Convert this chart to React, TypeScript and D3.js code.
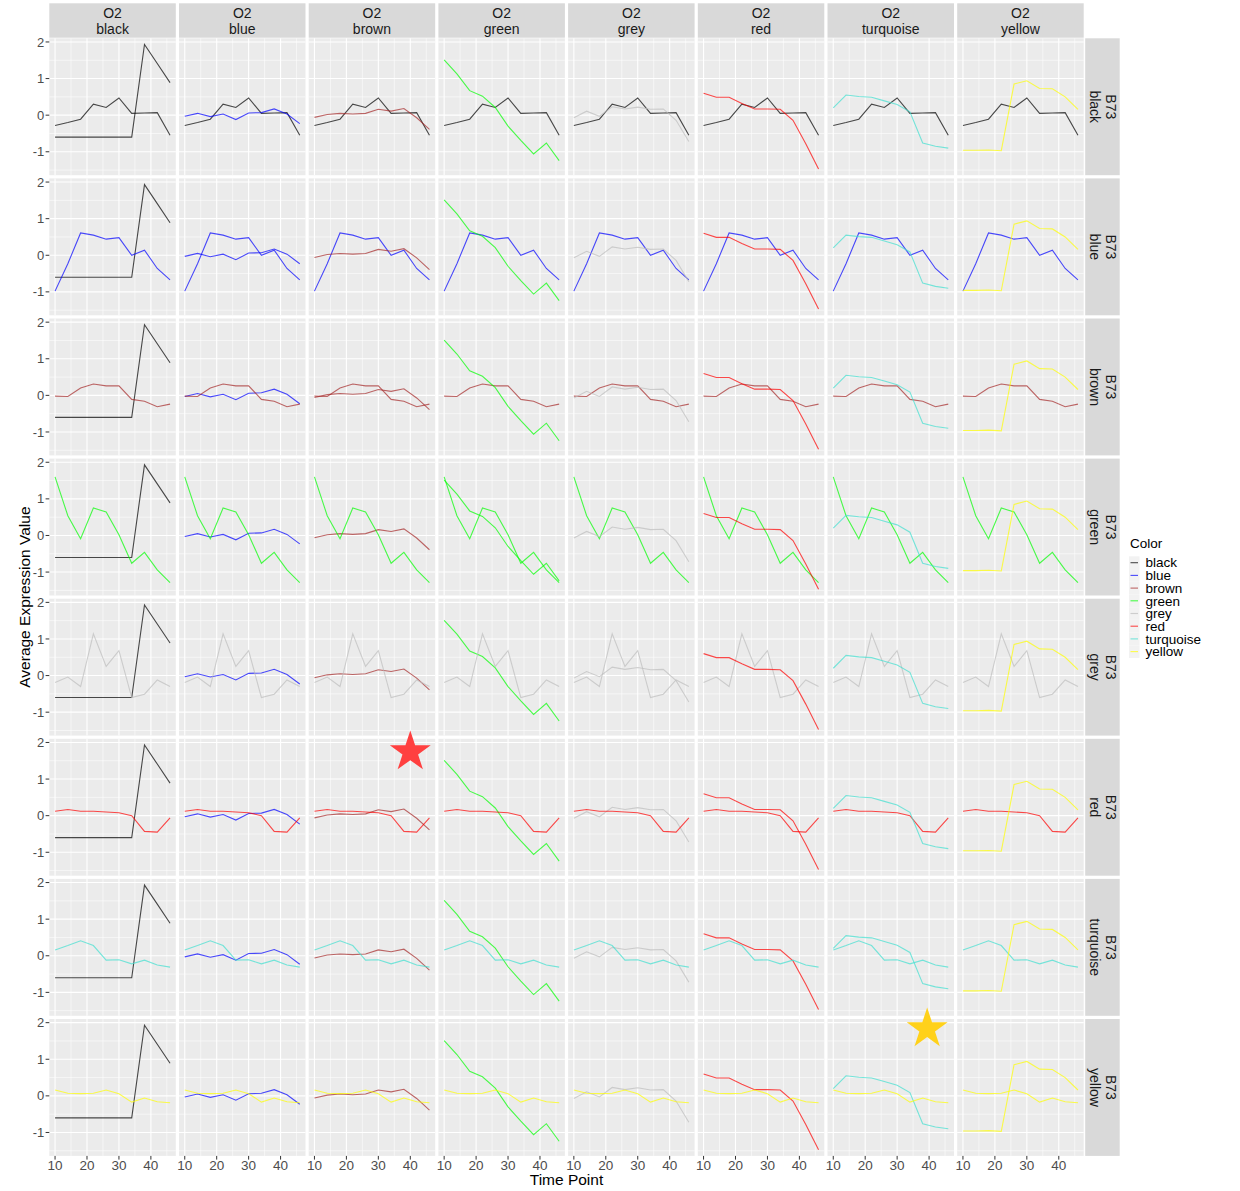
import React from "react";
import * as d3 from "d3";

// ---- data ----
const modules = ["black", "blue", "brown", "green", "grey", "red", "turquoise", "yellow"];
const moduleColors = ["#000000", "#0000FF", "#A52A2A", "#00FF00", "#BEBEBE", "#FF0000", "#40E0D0", "#FFFF00"];
const timePoints = [10, 14, 18, 22, 26, 30, 34, 38, 42, 46];

const o2Black = [-0.6, -0.6, -0.6, -0.6, -0.6, -0.6, -0.6, 1.93, 1.41, 0.89];
const o2Blue = [-0.03, 0.05, -0.04, 0.03, -0.12, 0.06, 0.07, 0.17, 0.03, -0.23];
const o2Brown = [-0.06, 0.02, 0.05, 0.03, 0.05, 0.16, 0.11, 0.18, -0.07, -0.39];
const o2Green = [1.51, 1.13, 0.67, 0.52, 0.21, -0.3, -0.69, -1.06, -0.76, -1.24];
const o2Grey = [-0.07, 0.11, -0.03, 0.23, 0.17, 0.22, 0.16, 0.17, -0.14, -0.72];
const o2Red = [0.6, 0.49, 0.49, 0.32, 0.17, 0.17, 0.16, -0.14, -0.78, -1.47];
const o2Turquoise = [0.2, 0.55, 0.51, 0.49, 0.39, 0.29, 0.09, -0.76, -0.85, -0.9];
const o2Yellow = [-0.96, -0.96, -0.95, -0.97, 0.85, 0.94, 0.73, 0.72, 0.5, 0.16];

const b73Black = [-0.28, -0.2, -0.11, 0.3, 0.21, 0.47, 0.05, 0.06, 0.07, -0.55];
const b73Blue = [-0.98, -0.23, 0.61, 0.55, 0.44, 0.48, 0.0, 0.14, -0.36, -0.67];
const b73Brown = [-0.02, -0.03, 0.2, 0.31, 0.26, 0.26, -0.11, -0.16, -0.31, -0.24];
const b73Green = [1.6, 0.54, -0.09, 0.75, 0.64, 0.02, -0.76, -0.46, -0.94, -1.29];
const b73Grey = [-0.19, -0.04, -0.3, 1.14, 0.25, 0.68, -0.6, -0.51, -0.12, -0.3];
const b73Red = [0.12, 0.17, 0.12, 0.12, 0.1, 0.08, 0.0, -0.43, -0.45, -0.06];
const b73Turquoise = [0.16, 0.28, 0.41, 0.28, -0.12, -0.11, -0.22, -0.12, -0.25, -0.31];
const b73Yellow = [0.16, 0.07, 0.06, 0.07, 0.16, 0.06, -0.17, -0.06, -0.16, -0.19];

const o2Series = [o2Black, o2Blue, o2Brown, o2Green, o2Grey, o2Red, o2Turquoise, o2Yellow];
const b73Series = [b73Black, b73Blue, b73Brown, b73Green, b73Grey, b73Red, b73Turquoise, b73Yellow];

const xTicks = [10, 20, 30, 40];
const xMinor = [15, 25, 35, 45];
const yTicks = [-1, 0, 1, 2];
const yMinor = [-1.5, -0.5, 0.5, 1.5];

// annotation stars: panel (row module, col module) and data position
const starRows = ["red", "yellow"];
const starCols = ["brown", "turquoise"];
const starT = [40, 39.4];
const starV = [1.74, 1.83];
const starColors = ["#FF4040", "#FFD11A"];

// ---- layout ----
const W = 1240;
const H = 1191;
const panelLeft = 49.3;
const panelTop = 38.3;
const panelW = 126.5;
const panelH = 136.9;
const gap = 3.2;
const FONT = "'Liberation Sans', Arial, Helvetica, sans-serif";

export default function App() {
  const allVals = [...o2Series.flat(), ...b73Series.flat()];
  const [vmin, vmax] = d3.extent(allVals) as [number, number];
  const vr = vmax - vmin;
  const [tmin, tmax] = d3.extent(timePoints) as [number, number];
  const tr = tmax - tmin;

  const x = d3.scaleLinear().domain([tmin - 0.05 * tr, tmax + 0.05 * tr]).range([0, panelW]);
  const y = d3.scaleLinear().domain([vmin - 0.05 * vr, vmax + 0.05 * vr]).range([panelH, 0]);

  const line = d3
    .line<number>()
    .x((_, i) => x(timePoints[i]))
    .y((d) => y(d));

  const colX = (c: number) => panelLeft + c * (panelW + gap);
  const rowY = (r: number) => panelTop + r * (panelH + gap);
  const gridBottom = rowY(7) + panelH;
  const gridRight = colX(7) + panelW;

  const starPath = (r: number) => d3.symbol(d3.symbolStar, (r * r) / 0.8908130915)();

  return (
    <svg
      width={W}
      height={H}
      style={{ position: "absolute", left: 0, top: 0, background: "#FFFFFF" }}
      fontFamily={FONT}
    >
      <rect width={W} height={H} fill="#FFFFFF" />
      {modules.map((rowMod, r) =>
        modules.map((colMod, c) => {
          const order = [
            { vals: o2Series[c], idx: c },
            { vals: b73Series[r], idx: r },
          ].sort((a, b) => a.idx - b.idx);
          return (
            <g key={`${r}-${c}`} transform={`translate(${colX(c)},${rowY(r)})`}>
              <rect width={panelW} height={panelH} fill="#EBEBEB" />
              {xMinor.map((t) => (
                <line key={`xm${t}`} x1={x(t)} x2={x(t)} y1={0} y2={panelH} stroke="#FFFFFF" strokeWidth={0.55} />
              ))}
              {yMinor.map((v) => (
                <line key={`ym${v}`} x1={0} x2={panelW} y1={y(v)} y2={y(v)} stroke="#FFFFFF" strokeWidth={0.55} />
              ))}
              {xTicks.map((t) => (
                <line key={`xM${t}`} x1={x(t)} x2={x(t)} y1={0} y2={panelH} stroke="#FFFFFF" strokeWidth={1.1} />
              ))}
              {yTicks.map((v) => (
                <line key={`yM${v}`} x1={0} x2={panelW} y1={y(v)} y2={y(v)} stroke="#FFFFFF" strokeWidth={1.1} />
              ))}
              {order.map((s, k) => (
                <path
                  key={k}
                  d={line(s.vals) || ""}
                  fill="none"
                  stroke={moduleColors[s.idx]}
                  strokeOpacity={0.7}
                  strokeWidth={1.1}
                />
              ))}
            </g>
          );
        })
      )}

      {/* top strips */}
      {modules.map((m, c) => (
        <g key={`ts${c}`} transform={`translate(${colX(c)},3.3)`}>
          <rect width={panelW} height={34.4} fill="#D9D9D9" />
          <text x={panelW / 2} y={14.6} textAnchor="middle" fontSize={14} fill="#1A1A1A">
            O2
          </text>
          <text x={panelW / 2} y={30.6} textAnchor="middle" fontSize={14} fill="#1A1A1A">
            {m}
          </text>
        </g>
      ))}

      {/* right strips */}
      {modules.map((m, r) => (
        <g key={`rs${r}`}>
          <rect x={gridRight + 1.5} y={rowY(r)} width={34.5} height={panelH} fill="#D9D9D9" />
          <text
            transform={`translate(${gridRight + 22.5},${rowY(r) + panelH / 2}) rotate(90)`}
            textAnchor="middle"
            fontSize={14}
            fill="#1A1A1A"
          >
            B73
          </text>
          <text
            transform={`translate(${gridRight + 6},${rowY(r) + panelH / 2}) rotate(90)`}
            textAnchor="middle"
            fontSize={14}
            fill="#1A1A1A"
          >
            {m}
          </text>
        </g>
      ))}

      {/* y axes */}
      {modules.map((_, r) => (
        <g key={`ya${r}`} transform={`translate(${panelLeft},${rowY(r)})`}>
          {yTicks.map((v) => (
            <g key={v}>
              <line x1={-3.7} x2={0} y1={y(v)} y2={y(v)} stroke="#333333" strokeWidth={1} />
              <text x={-5} y={y(v)} dy="0.35em" textAnchor="end" fontSize={13} fill="#4D4D4D">
                {v}
              </text>
            </g>
          ))}
        </g>
      ))}

      {/* x axes */}
      {modules.map((_, c) => (
        <g key={`xa${c}`} transform={`translate(${colX(c)},${gridBottom})`}>
          {xTicks.map((t) => (
            <g key={t}>
              <line x1={x(t)} x2={x(t)} y1={0} y2={3.7} stroke="#333333" strokeWidth={1} />
              <text x={x(t)} y={13.8} textAnchor="middle" fontSize={13.5} fill="#4D4D4D">
                {t}
              </text>
            </g>
          ))}
        </g>
      ))}

      {/* axis titles */}
      <text x={(panelLeft + gridRight) / 2} y={1185} textAnchor="middle" fontSize={15.5} fill="#000000">
        Time Point
      </text>
      <text
        transform={`translate(29.5,${(panelTop + gridBottom) / 2}) rotate(-90)`}
        textAnchor="middle"
        fontSize={15.5}
        fill="#000000"
      >
        Average Expression Value
      </text>

      {/* legend */}
      <g transform="translate(1129,0)">
        <text x={1} y={548} fontSize={13.5} fill="#000000">
          Color
        </text>
        {modules.map((m, i) => {
          const cy = 562.7 + i * 12.7;
          return (
            <g key={m}>
              <rect x={0} y={cy - 6.35} width={10.5} height={12.7} fill="#F2F2F2" />
              <line x1={1.5} x2={9} y1={cy} y2={cy} stroke={moduleColors[i]} strokeOpacity={0.7} strokeWidth={1.1} />
              <text x={16.5} y={cy} dy="0.35em" fontSize={13.5} fill="#000000">
                {m}
              </text>
            </g>
          );
        })}
      </g>

      {/* annotation stars */}
      {starRows.map((rm, i) => {
        const r = modules.indexOf(rm);
        const c = modules.indexOf(starCols[i]);
        const cx = colX(c) + x(starT[i]);
        const cy = rowY(r) + y(starV[i]);
        return <path key={`star${i}`} d={starPath(21.5) || ""} transform={`translate(${cx},${cy})`} fill={starColors[i]} />;
      })}
    </svg>
  );
}
